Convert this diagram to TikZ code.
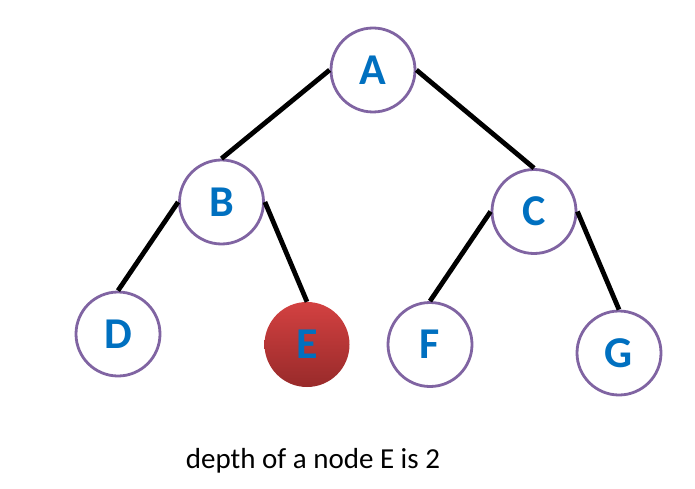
\documentclass[tikz,border=0pt]{standalone}
\usepackage{fontspec}
\setmainfont{Carlito}
\definecolor{nodeblue}{HTML}{0070C0}
\definecolor{ringpurple}{HTML}{8064A2}
\definecolor{redtop}{HTML}{D34141}
\definecolor{redbot}{HTML}{982A2A}
\begin{document}
\begin{tikzpicture}[x=1pt,y=-1pt,
  tnode/.style={circle,draw=ringpurple,line width=2.8pt,minimum size=84pt,inner sep=0pt,
    font=\fontsize{44}{48}\selectfont\bfseries,text=nodeblue,fill=white},
  rednode/.style={circle,minimum size=85pt,inner sep=0pt,
    font=\fontsize{44}{48}\selectfont\bfseries,text=nodeblue,top color=redtop,bottom color=redbot},
  edge/.style={line width=4.8pt,black}]
\useasboundingbox (0,0) rectangle (695,489);
\node[tnode] (A) at (373,70) {A};
\node[tnode] (B) at (221.5,202) {B};
\node[tnode] (C) at (534,211.5) {C};
\node[tnode] (D) at (118,334) {D};
\node[rednode] (E) at (307,344.5) {E};
\node[tnode] (F) at (430,344.5) {F};
\node[tnode] (G) at (619,353) {G};
\draw[edge] (A.west) -- (B.north);
\draw[edge] (A.east) -- (C.north);
\draw[edge] (B.west) -- (D.north);
\draw[edge] (B.east) -- (E.north);
\draw[edge] (C.west) -- (F.north);
\draw[edge] (C.east) -- (G.north);
\node[font=\fontsize{29}{34}\selectfont,anchor=base] (cap) at (313,468) {depth of a node E is 2};
\end{tikzpicture}
\end{document}
